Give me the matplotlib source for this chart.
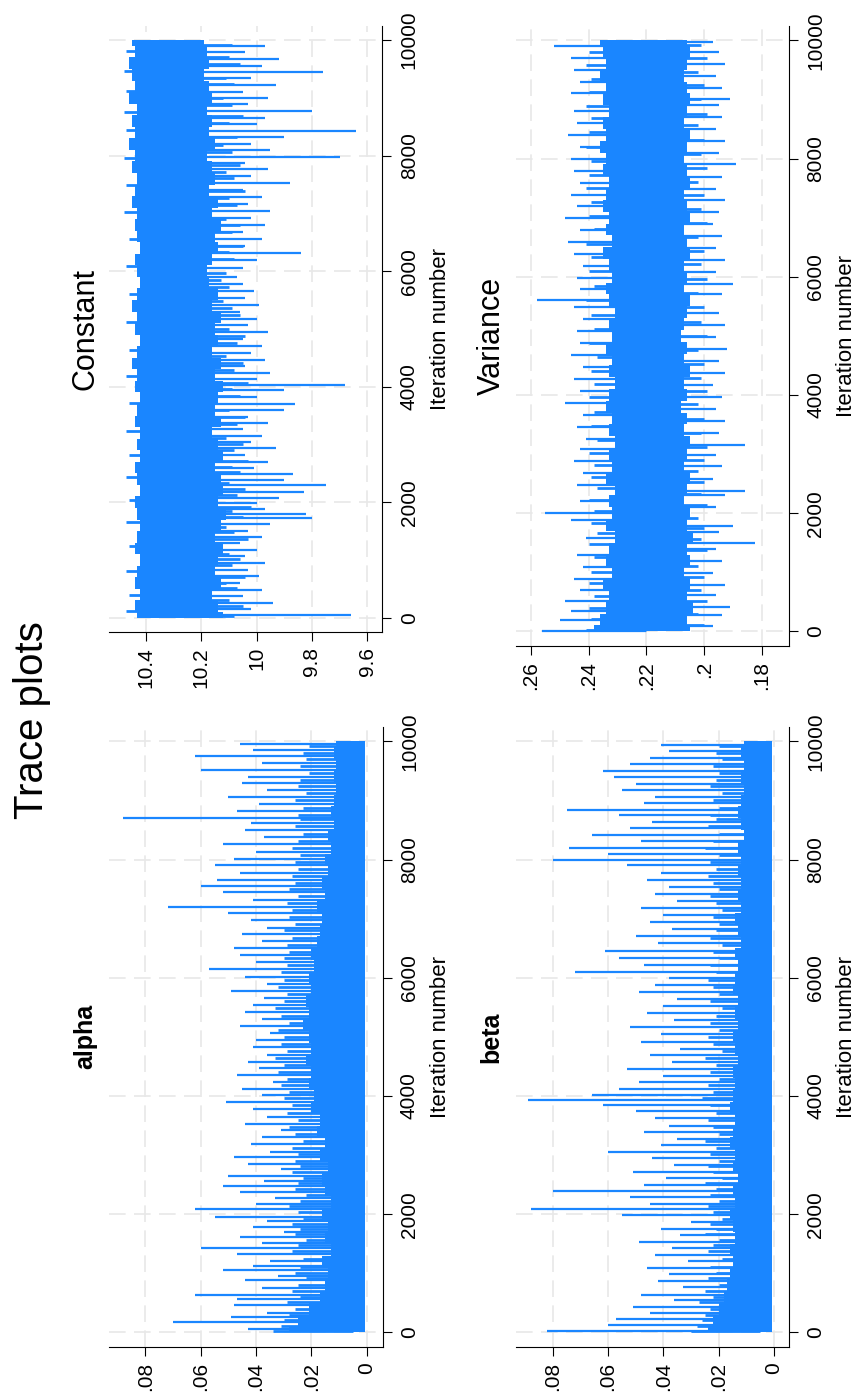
import numpy as np
import matplotlib
matplotlib.use('Agg')
import matplotlib.pyplot as plt

plt.rcParams['font.family'] = ['Liberation Sans', 'DejaVu Sans']

BLUE = '#1a86ff'
GRID = '#e8e8e8'

# iteration grid for the dense core of each trace
core_iter = np.arange(0, 10001, 200)
iter_ticks = [0, 2000, 4000, 6000, 8000, 10000]
iter_labels = ['0', '2000', '4000', '6000', '8000', '10000']

# iterations of the short excursions just outside the core (shared by all panels)
inner_iter = [30, 110, 210, 300, 400, 510, 600, 700, 810, 920,
              1010, 1100, 1250, 1370, 1480, 1570, 1660, 1750, 1840, 1920,
              2030, 2130, 2230, 2330, 2430, 2520, 2610, 2710, 2810, 2900,
              3010, 3120, 3240, 3360, 3480, 3590, 3710, 3840, 3960, 4070,
              4180, 4290, 4410, 4530, 4640, 4760, 4880, 5000, 5120, 5240,
              5360, 5480, 5600, 5720, 5840, 5960, 6090, 6210, 6330, 6440,
              6560, 6680, 6800, 6910, 7030, 7140, 7260, 7390, 7500, 7610,
              7720, 7840, 7960, 8070, 8190, 8320, 8440, 8560, 8680, 8760,
              8880, 9000, 9120, 9240, 9350, 9460, 9580, 9700, 9810, 9920]

# ---- alpha ----
alpha_lo = 0.0006
alpha_hi = [0.028, 0.025, 0.021, 0.017, 0.015, 0.014, 0.016, 0.013, 0.015, 0.014,
            0.016, 0.013, 0.015, 0.016, 0.014, 0.017, 0.015, 0.018, 0.017, 0.020,
            0.019, 0.021, 0.020, 0.022, 0.020, 0.021, 0.023, 0.021, 0.022, 0.020,
            0.021, 0.019, 0.020, 0.018, 0.017, 0.016, 0.018, 0.015, 0.016, 0.014,
            0.015, 0.013, 0.014, 0.012, 0.013, 0.012, 0.011, 0.012, 0.011, 0.012, 0.011]
alpha_inner = [0.034, 0.031, 0.030, 0.028, 0.026, 0.029, 0.024, 0.027, 0.025, 0.022,
               0.026, 0.024, 0.023, 0.027, 0.025, 0.022, 0.026, 0.024, 0.027, 0.023,
               0.025, 0.028, 0.024, 0.022, 0.026, 0.025, 0.023, 0.027, 0.024, 0.026,
               0.025, 0.027, 0.023, 0.026, 0.028, 0.025, 0.029, 0.027, 0.030, 0.028,
               0.031, 0.029, 0.032, 0.030, 0.033, 0.029, 0.031, 0.030, 0.032, 0.028,
               0.031, 0.033, 0.030, 0.029, 0.032, 0.030, 0.031, 0.029, 0.030, 0.028,
               0.029, 0.027, 0.030, 0.026, 0.028, 0.027, 0.029, 0.025, 0.028, 0.026,
               0.027, 0.025, 0.026, 0.024, 0.027, 0.025, 0.023, 0.026, 0.024, 0.025,
               0.023, 0.026, 0.022, 0.025, 0.024, 0.021, 0.024, 0.022, 0.023, 0.021]
alpha_spike_iter = [60, 170, 260, 330, 470, 560, 640, 750, 880, 960, 1050, 1130, 1210, 1320,
                    1430, 1520, 1610, 1700, 1790, 1880, 1960, 2080, 2180, 2270, 2380, 2470,
                    2560, 2650, 2760, 2850, 2960, 3060, 3180, 3300, 3420, 3530, 3650, 3780,
                    3900, 4010, 4120, 4230, 4350, 4470, 4580, 4700, 4820, 4950, 5060, 5180,
                    5300, 5420, 5540, 5660, 5780, 5900, 6020, 6150, 6270, 6380, 6500, 6620,
                    6740, 6850, 6970, 7090, 7200, 7320, 7450, 7560, 7660, 7780, 7900, 8010,
                    8130, 8260, 8380, 8500, 8620, 8700, 8820, 8940, 9060, 9180, 9290, 9400,
                    9520, 9640, 9750, 9860, 9960]
alpha_spike_val = [0.043, 0.070, 0.049, 0.036, 0.048, 0.047, 0.062, 0.038, 0.044, 0.032, 0.052,
                   0.041, 0.035, 0.047, 0.060, 0.038, 0.046, 0.030, 0.041, 0.036, 0.055, 0.062,
                   0.040, 0.033, 0.046, 0.052, 0.037, 0.050, 0.031, 0.043, 0.048, 0.035, 0.042,
                   0.038, 0.031, 0.044, 0.036, 0.041, 0.051, 0.038, 0.045, 0.034, 0.047, 0.039,
                   0.043, 0.036, 0.041, 0.040, 0.035, 0.046, 0.038, 0.044, 0.041, 0.037, 0.049,
                   0.036, 0.044, 0.057, 0.040, 0.046, 0.048, 0.038, 0.045, 0.036, 0.042, 0.050,
                   0.072, 0.041, 0.052, 0.060, 0.054, 0.046, 0.055, 0.048, 0.040, 0.052, 0.037,
                   0.044, 0.042, 0.088, 0.047, 0.039, 0.050, 0.036, 0.045, 0.043, 0.060, 0.038,
                   0.062, 0.041, 0.046]

# ---- beta ----
beta_lo = 0.0006
beta_hi = [0.024, 0.022, 0.020, 0.018, 0.017, 0.016, 0.015, 0.016, 0.014, 0.015,
           0.016, 0.014, 0.015, 0.013, 0.015, 0.014, 0.016, 0.015, 0.014, 0.016,
           0.015, 0.014, 0.015, 0.013, 0.014, 0.015, 0.013, 0.014, 0.013, 0.015,
           0.014, 0.013, 0.014, 0.012, 0.013, 0.014, 0.012, 0.013, 0.012, 0.013,
           0.012, 0.013, 0.011, 0.012, 0.013, 0.012, 0.011, 0.012, 0.011, 0.012, 0.011]
beta_inner = [0.030, 0.028, 0.026, 0.025, 0.023, 0.027, 0.022, 0.025, 0.020, 0.024,
              0.021, 0.023, 0.019, 0.024, 0.022, 0.020, 0.025, 0.021, 0.023, 0.019,
              0.022, 0.024, 0.020, 0.023, 0.021, 0.025, 0.019, 0.022, 0.024, 0.020,
              0.023, 0.021, 0.025, 0.020, 0.022, 0.024, 0.021, 0.023, 0.026, 0.022,
              0.024, 0.020, 0.023, 0.021, 0.025, 0.019, 0.022, 0.024, 0.020, 0.023,
              0.021, 0.019, 0.023, 0.020, 0.022, 0.024, 0.021, 0.023, 0.020, 0.022,
              0.019, 0.023, 0.021, 0.020, 0.022, 0.019, 0.021, 0.023, 0.020, 0.022,
              0.024, 0.021, 0.023, 0.020, 0.025, 0.022, 0.020, 0.024, 0.021, 0.023,
              0.020, 0.022, 0.019, 0.023, 0.021, 0.020, 0.022, 0.019, 0.021, 0.020]
beta_spike_iter = [20, 120, 220, 330, 430, 540, 640, 760, 870, 980, 1090, 1200, 1310, 1420,
                   1530, 1640, 1750, 1860, 1990, 2080, 2170, 2290, 2400, 2500, 2610, 2720,
                   2830, 2950, 3060, 3170, 3280, 3390, 3500, 3620, 3740, 3850, 3930, 4020,
                   4120, 4230, 4340, 4460, 4570, 4690, 4800, 4920, 5040, 5160, 5280, 5400,
                   5520, 5640, 5760, 5880, 6000, 6100, 6220, 6340, 6460, 6580, 6700, 6820,
                   6940, 7060, 7180, 7300, 7420, 7540, 7660, 7780, 7900, 8000, 8100, 8200,
                   8310, 8420, 8530, 8640, 8760, 8840, 8950, 9060, 9170, 9280, 9390, 9500,
                   9610, 9720, 9830, 9940]
beta_spike_val = [0.082, 0.060, 0.057, 0.045, 0.051, 0.036, 0.048, 0.033, 0.042, 0.038, 0.046,
                  0.031, 0.043, 0.037, 0.049, 0.034, 0.041, 0.030, 0.055, 0.088, 0.045, 0.052,
                  0.080, 0.047, 0.039, 0.051, 0.036, 0.044, 0.060, 0.041, 0.035, 0.047, 0.038,
                  0.043, 0.050, 0.062, 0.089, 0.066, 0.056, 0.049, 0.040, 0.053, 0.037, 0.045,
                  0.034, 0.048, 0.041, 0.052, 0.036, 0.046, 0.040, 0.035, 0.049, 0.043, 0.038,
                  0.072, 0.047, 0.056, 0.061, 0.042, 0.050, 0.037, 0.045, 0.040, 0.048, 0.035,
                  0.043, 0.038, 0.046, 0.041, 0.053, 0.080, 0.060, 0.074, 0.048, 0.066, 0.052,
                  0.044, 0.056, 0.075, 0.047, 0.043, 0.055, 0.050, 0.058, 0.062, 0.052, 0.045,
                  0.038, 0.041]

# ---- Constant ----
const_hi = [10.43, 10.44, 10.42, 10.44, 10.43, 10.42, 10.44, 10.43, 10.42, 10.43,
            10.44, 10.42, 10.43, 10.44, 10.42, 10.43, 10.42, 10.44, 10.43, 10.42,
            10.44, 10.43, 10.45, 10.43, 10.42, 10.44, 10.43, 10.45, 10.43, 10.42,
            10.43, 10.44, 10.42, 10.43, 10.44, 10.43, 10.45, 10.44, 10.43, 10.45,
            10.44, 10.46, 10.44, 10.45, 10.43, 10.46, 10.44, 10.45, 10.46, 10.44, 10.45]
const_lo = [10.12, 10.14, 10.16, 10.13, 10.15, 10.14, 10.12, 10.15, 10.13, 10.11,
            10.14, 10.12, 10.13, 10.15, 10.12, 10.14, 10.16, 10.13, 10.15, 10.14,
            10.12, 10.15, 10.13, 10.16, 10.14, 10.15, 10.13, 10.16, 10.14, 10.17,
            10.18, 10.16, 10.14, 10.15, 10.13, 10.16, 10.14, 10.17, 10.15, 10.16,
            10.18, 10.15, 10.17, 10.16, 10.18, 10.16, 10.17, 10.19, 10.17, 10.18, 10.19]
const_inner = [10.08, 10.47, 10.05, 10.10, 10.46, 10.07, 10.11, 10.04, 10.47, 10.09,
               10.06, 10.10, 10.46, 10.03, 10.08, 10.11, 10.47, 10.05, 10.09, 10.02,
               10.46, 10.07, 10.04, 10.10, 10.47, 10.06, 10.09, 10.03, 10.46, 10.08,
               10.05, 10.11, 10.47, 10.07, 10.04, 10.10, 10.46, 10.06, 10.09, 10.03,
               10.47, 10.08, 10.05, 10.11, 10.46, 10.07, 10.04, 10.10, 10.47, 10.06,
               10.09, 10.12, 10.46, 10.10, 10.13, 10.11, 10.47, 10.08, 10.10, 10.05,
               10.46, 10.09, 10.06, 10.11, 10.48, 10.07, 10.10, 10.04, 10.47, 10.08,
               10.11, 10.06, 10.48, 10.09, 10.12, 10.07, 10.47, 10.10, 10.05, 10.48,
               10.09, 10.12, 10.47, 10.08, 10.11, 10.48, 10.06, 10.10, 10.47, 10.09]
const_spike_iter = [40, 150, 260, 380, 480, 600, 720, 830, 950, 1060, 1180, 1290, 1400, 1510,
                    1630, 1720, 1790, 1880, 1990, 2080, 2180, 2290, 2380, 2480, 2590, 2700,
                    2810, 2930, 3040, 3150, 3260, 3370, 3480, 3590, 3700, 3820, 3940, 4030,
                    4130, 4240, 4360, 4470, 4590, 4700, 4820, 4940, 5060, 5180, 5300, 5420,
                    5540, 5660, 5780, 5900, 6050, 6200, 6320, 6440, 6560, 6680, 6800, 6920,
                    7040, 7160, 7280, 7400, 7520, 7640, 7760, 7870, 7980, 8090, 8200, 8320,
                    8420, 8540, 8660, 8780, 8890, 9000, 9110, 9230, 9340, 9440, 9560, 9680,
                    9790, 9900]
const_spike_val = [9.66, 10.02, 9.94, 10.05, 9.98, 10.06, 9.99, 10.03, 9.97, 10.04, 10.00,
                   10.06, 9.98, 10.03, 9.95, 9.80, 9.82, 9.97, 10.00, 9.92, 9.83, 9.75, 9.90,
                   9.87, 10.01, 9.96, 10.04, 9.93, 10.02, 9.98, 10.05, 9.96, 10.03, 9.90, 9.86,
                   10.00, 9.90, 9.68, 10.00, 9.95, 10.04, 9.97, 10.02, 9.98, 10.05, 9.96, 10.03,
                   10.00, 10.06, 9.99, 10.04, 10.01, 10.05, 10.07, 10.05, 10.00, 9.84, 10.04,
                   9.98, 10.05, 9.97, 10.02, 9.95, 10.03, 9.98, 10.05, 9.88, 10.02, 9.96, 10.04,
                   9.70, 9.95, 10.02, 9.90, 9.64, 10.00, 9.97, 9.80, 10.03, 9.96, 10.05, 9.93,
                   10.02, 9.76, 9.98, 9.92, 10.04, 9.97]

# ---- Variance ----
var_hi = [0.238, 0.236, 0.234, 0.233, 0.235, 0.232, 0.234, 0.233, 0.231, 0.234,
          0.232, 0.233, 0.231, 0.234, 0.232, 0.233, 0.231, 0.233, 0.232, 0.234,
          0.233, 0.231, 0.233, 0.232, 0.234, 0.232, 0.233, 0.231, 0.233, 0.234,
          0.232, 0.233, 0.235, 0.232, 0.234, 0.233, 0.235, 0.234, 0.233, 0.235,
          0.234, 0.236, 0.234, 0.235, 0.233, 0.235, 0.234, 0.236, 0.234, 0.235, 0.236]
var_lo = [0.205, 0.206, 0.204, 0.206, 0.205, 0.207, 0.205, 0.206, 0.204, 0.206,
          0.205, 0.207, 0.206, 0.205, 0.207, 0.206, 0.205, 0.207, 0.206, 0.208,
          0.206, 0.207, 0.205, 0.207, 0.206, 0.208, 0.207, 0.206, 0.205, 0.207,
          0.206, 0.207, 0.205, 0.206, 0.207, 0.205, 0.206, 0.207, 0.205, 0.206,
          0.207, 0.206, 0.205, 0.207, 0.206, 0.205, 0.206, 0.207, 0.206, 0.205, 0.206]
var_inner = [0.241, 0.200, 0.239, 0.202, 0.240, 0.199, 0.238, 0.201, 0.240, 0.200,
             0.239, 0.202, 0.238, 0.199, 0.240, 0.201, 0.237, 0.200, 0.239, 0.202,
             0.238, 0.199, 0.240, 0.201, 0.237, 0.200, 0.239, 0.202, 0.238, 0.200,
             0.240, 0.199, 0.237, 0.201, 0.239, 0.200, 0.238, 0.202, 0.240, 0.199,
             0.238, 0.201, 0.239, 0.200, 0.237, 0.202, 0.240, 0.199, 0.238, 0.201,
             0.239, 0.200, 0.241, 0.202, 0.238, 0.199, 0.240, 0.201, 0.239, 0.200,
             0.241, 0.202, 0.238, 0.199, 0.240, 0.201, 0.239, 0.200, 0.241, 0.202,
             0.240, 0.199, 0.239, 0.201, 0.241, 0.200, 0.240, 0.202, 0.239, 0.199,
             0.241, 0.201, 0.240, 0.200, 0.239, 0.202, 0.241, 0.199, 0.240, 0.201]
var_spike_iter = [10, 90, 190, 270, 340, 420, 520, 610, 700, 790, 890, 990, 1090, 1190, 1290,
                  1390, 1490, 1580, 1680, 1790, 1880, 2000, 2100, 2200, 2300, 2380, 2480, 2580,
                  2680, 2790, 2890, 2990, 3090, 3160, 3260, 3360, 3460, 3560, 3660, 3760, 3870,
                  3970, 4070, 4170, 4270, 4370, 4470, 4570, 4680, 4780, 4880, 4980, 5080, 5180,
                  5290, 5390, 5490, 5600, 5700, 5800, 5880, 5980, 6080, 6180, 6280, 6380, 6480,
                  6590, 6690, 6790, 6890, 6990, 7090, 7190, 7290, 7390, 7490, 7590, 7690, 7790,
                  7900, 8000, 8100, 8200, 8300, 8400, 8500, 8600, 8700, 8800, 8900, 9000, 9100,
                  9200, 9300, 9400, 9500, 9600, 9700, 9800, 9900, 9970]
var_spike_val = [0.256, 0.197, 0.250, 0.194, 0.246, 0.191, 0.248, 0.196, 0.243, 0.193, 0.245,
                 0.197, 0.242, 0.194, 0.244, 0.196, 0.1825, 0.241, 0.195, 0.190, 0.246, 0.255,
                 0.196, 0.243, 0.193, 0.186, 0.244, 0.197, 0.242, 0.194, 0.245, 0.196, 0.243,
                 0.186, 0.241, 0.195, 0.244, 0.193, 0.242, 0.196, 0.248, 0.194, 0.243, 0.197,
                 0.245, 0.193, 0.242, 0.195, 0.246, 0.192, 0.243, 0.196, 0.244, 0.193, 0.242,
                 0.195, 0.245, 0.258, 0.194, 0.243, 0.190, 0.244, 0.196, 0.242, 0.193, 0.245,
                 0.196, 0.247, 0.194, 0.243, 0.197, 0.248, 0.195, 0.244, 0.193, 0.246, 0.196,
                 0.243, 0.194, 0.245, 0.189, 0.246, 0.195, 0.243, 0.193, 0.247, 0.196, 0.244,
                 0.194, 0.245, 0.195, 0.191, 0.246, 0.194, 0.243, 0.196, 0.245, 0.193, 0.246,
                 0.195, 0.252, 0.197]

fig = plt.figure(figsize=(8.6, 13.94), dpi=100)


def panel(rect, lo, hi, inner, s_iter, s_val, base, xlim, ticks, labels, title, bold, tsize):
    ax = fig.add_axes(rect)
    ax.fill_betweenx(core_iter, lo, hi, step='mid', color=BLUE, lw=0)
    ax.hlines(inner_iter, base, inner, color=BLUE, lw=2.0)
    ax.hlines(s_iter, base, s_val, color=BLUE, lw=1.6)
    ax.set_xlim(*xlim)
    ax.set_ylim(-243, 10243)
    ax.set_xticks(ticks, labels, rotation=90)
    ax.yaxis.tick_right()
    ax.set_yticks(iter_ticks, iter_labels, rotation=90, va='center')
    ax.tick_params(axis='both', length=6.5, width=0.8, color='black', labelsize=15)
    ax.tick_params(axis='x', pad=4.5)
    ax.tick_params(axis='y', pad=6)
    for side in ['top', 'left']:
        ax.spines[side].set_visible(False)
    for side in ['bottom', 'right']:
        ax.spines[side].set_linewidth(0.8)
    ax.grid(True, color=GRID, lw=1.2, ls=(0, (10, 5)))
    ax.set_axisbelow(True)
    ax.yaxis.set_label_position('right')
    ax.set_ylabel('Iteration number', fontsize=16)
    ax.yaxis.set_label_coords(1.175, 0.5)
    ax.text(-0.088, 0.5, title, rotation=90, ha='center', va='center',
            transform=ax.transAxes, fontsize=tsize,
            fontweight='bold' if bold else 'normal')
    return ax


panel([0.1273, 0.0339, 0.3175, 0.4446], alpha_lo, alpha_hi, alpha_inner,
      alpha_spike_iter, alpha_spike_val, 0.005, (0.093, -0.0057),
      [0, 0.02, 0.04, 0.06, 0.08], ['0', '.02', '.04', '.06', '.08'], 'alpha', True, 18)
panel([0.5997, 0.0339, 0.3174, 0.4446], beta_lo, beta_hi, beta_inner,
      beta_spike_iter, beta_spike_val, 0.005, (0.0934, -0.0053),
      [0, 0.02, 0.04, 0.06, 0.08], ['0', '.02', '.04', '.06', '.08'], 'beta', True, 18)
panel([0.1273, 0.5468, 0.3172, 0.4345], const_lo, const_hi, const_inner,
      const_spike_iter, const_spike_val, 10.3, (10.531, 9.546),
      [9.6, 9.8, 10.0, 10.2, 10.4], ['9.6', '9.8', '10', '10.2', '10.4'], 'Constant', False, 22)
panel([0.6, 0.5368, 0.3171, 0.4446], var_lo, var_hi, var_inner,
      var_spike_iter, var_spike_val, 0.22, (0.2651, 0.1708),
      [0.18, 0.2, 0.22, 0.24, 0.26], ['.18', '.2', '.22', '.24', '.26'], 'Variance', False, 22)

fig.text(0.0372, 0.4835, 'Trace plots', rotation=90, ha='center', va='center', fontsize=29)

fig.savefig('out.png', dpi=100)
